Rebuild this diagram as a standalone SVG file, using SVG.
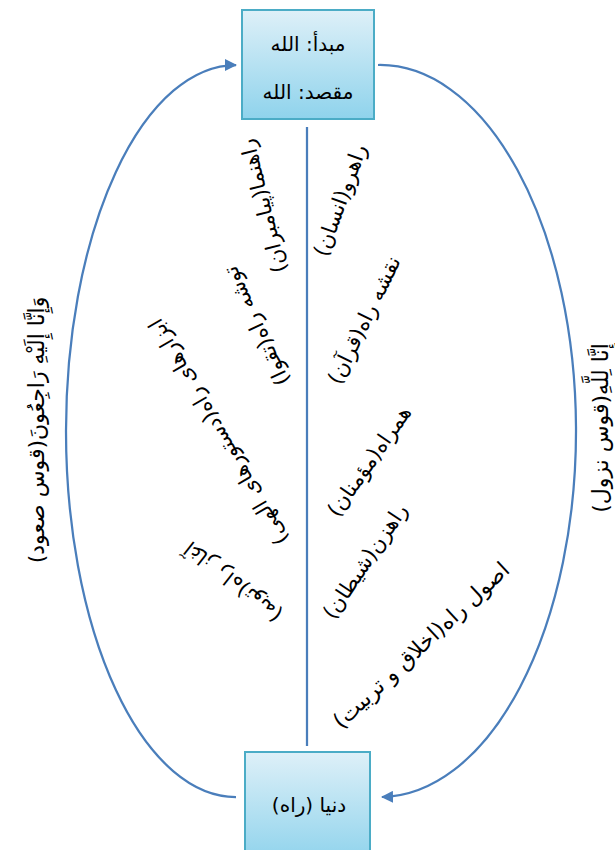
<svg xmlns="http://www.w3.org/2000/svg" width="615" height="850" viewBox="0 0 615 850">
<defs>
<linearGradient id="boxg" x1="0" y1="0" x2="0" y2="1">
<stop offset="0" stop-color="#def0f8"/>
<stop offset="1" stop-color="#8fd3ec"/>
</linearGradient>
<marker id="arr" markerWidth="12" markerHeight="12" viewBox="0 0 12 12" refX="11" refY="6" orient="auto" markerUnits="userSpaceOnUse">
<path d="M0,0 L12,6 L0,12 Z" fill="#4a7ebb"/>
</marker>
</defs>
<style>
.box{fill:url(#boxg);stroke:#4bacc6;stroke-width:2}
.conn{fill:none;stroke:#4a7ebb;stroke-width:2.25}
.t{font-family:"DejaVu Sans",sans-serif;font-size:21px;fill:#000;direction:rtl}
.v{font-family:"DejaVu Sans",sans-serif;font-size:22px;fill:#000;direction:rtl}
.bt{font-family:"DejaVu Sans",sans-serif;font-size:20px;fill:#000;direction:rtl}
</style>
<g id="connectors">
<line class="conn" x1="307" y1="127" x2="307" y2="746"/>
<path class="conn" d="M236,797 A170,366 0 0 1 236,65" marker-end="url(#arr)"/>
<path class="conn" d="M378,65 A196,366 0 0 1 382,797" marker-end="url(#arr)"/>
</g>
<g id="node-top">
<rect class="box" x="242" y="10" width="132" height="109"/>
<text class="bt" x="308" y="51" text-anchor="middle">مبدأ: الله</text>
<text class="bt" x="308" y="99" text-anchor="middle">مقصد: الله</text>
</g>
<g id="node-bottom">
<rect class="box" x="245" y="752" width="125" height="110"/>
<text class="bt" x="309" y="812" text-anchor="middle">دنیا (راه)</text>
</g>
<g id="labels">
<text class="t" transform="translate(263,206) rotate(-104)" text-anchor="middle" dy="0.35em">راهنما(پیامبران)</text>
<text class="t" transform="translate(256,326) rotate(-115)" text-anchor="middle" dy="0.35em">توشه راه(تقوا)</text>
<text class="t" transform="translate(218,432) rotate(-120)" text-anchor="middle" dy="0.35em">ابزارهای راه(دستورهای الهی)</text>
<text class="t" transform="translate(233,582) rotate(-142)" text-anchor="middle" dy="0.35em">آغاز راه(توبه)</text>
<text class="t" transform="translate(340,200) rotate(-70)" text-anchor="middle" dy="0.35em">راهرو(انسان)</text>
<text class="t" transform="translate(364,320) rotate(-64)" text-anchor="middle" dy="0.35em">نقشه راه(قرآن)</text>
<text class="t" transform="translate(369,461) rotate(-55)" text-anchor="middle" dy="0.35em">همراه(مؤمنان)</text>
<text class="t" transform="translate(365,561) rotate(-56)" text-anchor="middle" dy="0.35em">راهزن(شیطان)</text>
<text class="t" transform="translate(421,645) rotate(-43)" text-anchor="middle" dy="0.35em" style="font-size:22px">اصول راه(اخلاق و تربیت)</text>
<text class="v" transform="translate(36,430) rotate(-90)" text-anchor="middle" dy="0.35em">وَإِنَّا إِلَيْهِ رَاجِعُونَ(قوس صعود)</text>
<text class="v" transform="translate(600,428) rotate(-90)" text-anchor="middle" dy="0.35em">إِنَّا لِلَّهِ(قوس نزول)</text>
</g>
</svg>
